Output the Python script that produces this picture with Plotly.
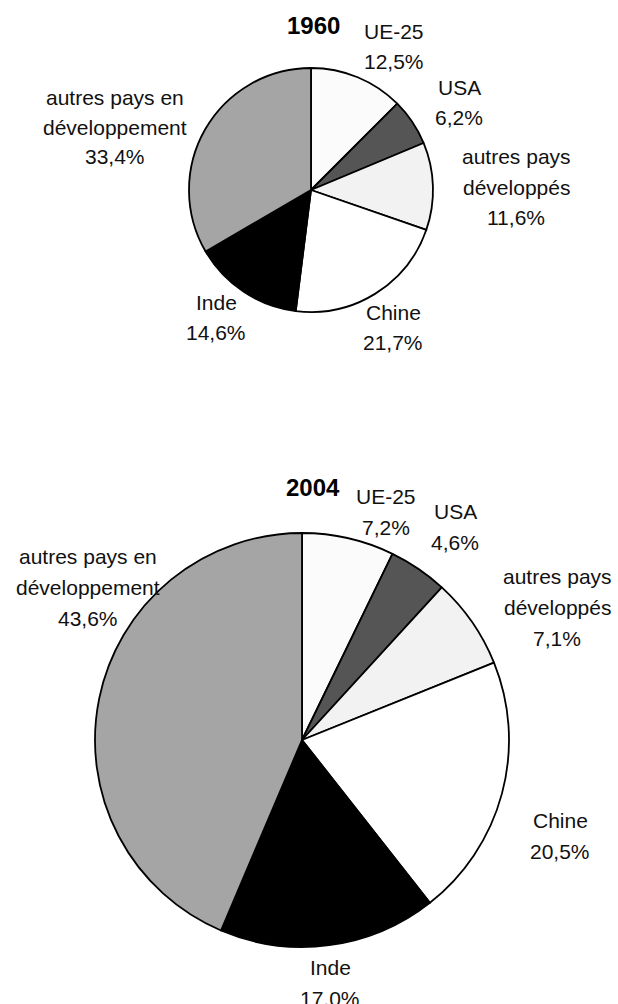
import plotly.graph_objects as go

# ---- data ----
categories = ["UE-25", "USA", "autres pays<br>développés", "Chine", "Inde",
              "autres pays en<br>développement"]
values_1960 = [12.5, 6.2, 11.6, 21.7, 14.6, 33.4]
values_2004 = [7.2, 4.6, 7.1, 20.5, 17.0, 43.6]
years = ["1960", "2004"]

# ---- styles / layout ----
W, H = 618, 1004
colors = ["#fbfbfb", "#555555", "#f2f2f2", "#ffffff", "#000000", "#a5a5a5"]
FONT = "Liberation Sans, Arial, sans-serif"

# pie geometry in pixels: (cx, cy, r)
pies = [(311, 190, 122), (302, 740, 207)]
# label block centers in pixels for each pie
label_pos = [
    [(394, 47), (459, 102), (516, 187), (393, 328), (216, 318), (115, 127)],
    [(386, 512), (455, 527), (557, 607), (560, 836), (330, 983), (88, 587)],
]
line_gap = [30, 31]
title_pos = [(313, 26), (313, 487)]


def fmt(v):
    return f"{v:.1f}".replace(".", ",") + "%"


fig = go.Figure()
annotations = []
for (cx, cy, r), vals, lpos, year, tpos, gap in zip(
        pies, [values_1960, values_2004], label_pos, years, title_pos, line_gap):
    fig.add_trace(go.Pie(
        labels=categories, values=vals, sort=False, direction="clockwise",
        rotation=0, textinfo="none", hoverinfo="label+value",
        marker=dict(colors=colors, line=dict(color="#000000", width=1.8)),
        domain=dict(x=[(cx - r) / W, (cx + r) / W],
                    y=[1 - (cy + r) / H, 1 - (cy - r) / H]),
        showlegend=False,
    ))
    for cat, v, (lx, ly) in zip(categories, vals, lpos):
        lines = cat.split("<br>") + [fmt(v)]
        n = len(lines)
        for i, line in enumerate(lines):
            yy = ly + (i - (n - 1) / 2) * gap
            annotations.append(dict(
                x=lx / W, y=1 - yy / H, xref="paper", yref="paper",
                text=line, showarrow=False, align="center",
                xanchor="center", yanchor="middle",
                font=dict(family=FONT, size=21, color="#111111"),
            ))
    annotations.append(dict(
        x=tpos[0] / W, y=1 - tpos[1] / H, xref="paper", yref="paper",
        text=f"<b>{year}</b>", showarrow=False, xanchor="center",
        yanchor="middle", font=dict(family=FONT, size=24, color="#000000"),
    ))

fig.update_layout(
    width=W, height=H, margin=dict(l=0, r=0, t=0, b=0),
    paper_bgcolor="#ffffff", plot_bgcolor="#ffffff",
    annotations=annotations, separators=", ",
)
fig.write_html("out.html", config={"displayModeBar": False})

# remove default browser body margin so the figure sits at the page origin
with open("out.html", "r", encoding="utf-8") as f:
    html = f.read()
html = html.replace("<body>", '<body style="margin:0;overflow:hidden">', 1)
with open("out.html", "w", encoding="utf-8") as f:
    f.write(html)
